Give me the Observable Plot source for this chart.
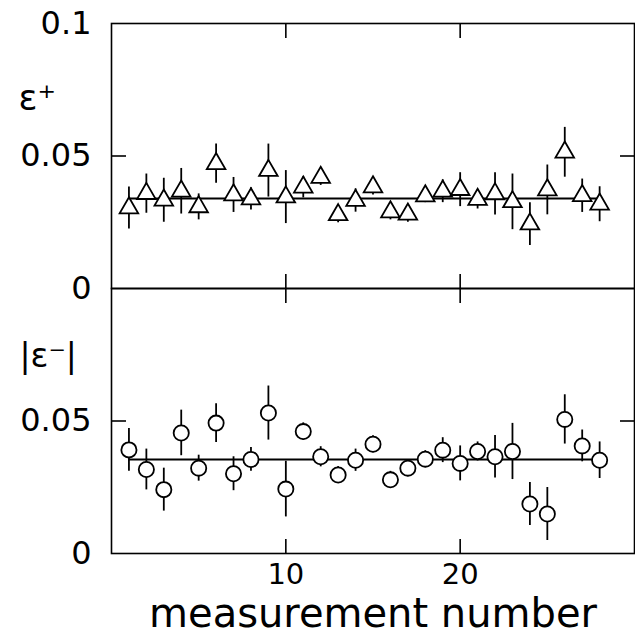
<!DOCTYPE html>
<html>
<head>
<meta charset="utf-8">
<script src="https://cdn.jsdelivr.net/npm/d3@7"></script>
<script src="https://cdn.jsdelivr.net/npm/@observablehq/plot@0.6"></script>
<style>
  html, body { margin: 0; padding: 0; background: #fff; }
</style>
</head>
<body>
<div id="chart"></div>
<script>
// ---- data ----
const panels = ["plus", "minus"];
const panelNames = ["ε⁺", "|ε⁻|"];
const measurement = [1, 2, 3, 4, 5, 6, 7, 8, 9, 10, 11, 12, 13, 14, 15, 16, 17, 18, 19, 20, 21, 22, 23, 24, 25, 26, 27, 28];
const epsPlus = [0.0304, 0.0358, 0.0333, 0.0367, 0.0308, 0.0471, 0.0353, 0.0338, 0.0445, 0.0345,
                 0.0382, 0.0419, 0.0278, 0.0332, 0.0383, 0.0289, 0.0280, 0.0349, 0.0367, 0.0373,
                 0.0336, 0.0357, 0.0327, 0.0243, 0.0372, 0.0514, 0.0350, 0.0318];
const epsPlusErr = [0.0079, 0.0074, 0.0083, 0.0086, 0.0049, 0.0074, 0.0066, 0.0042, 0.0100, 0.0100,
                    0.0040, 0.0030, 0.0030, 0.0044, 0.0030, 0.0030, 0.0030, 0.0025, 0.0043, 0.0064,
                    0.0036, 0.0080, 0.0105, 0.0081, 0.0094, 0.0094, 0.0063, 0.0066];
const epsMinus = [0.0391, 0.0317, 0.0241, 0.0455, 0.0322, 0.0492, 0.0301, 0.0355, 0.0530, 0.0243,
                  0.0460, 0.0365, 0.0296, 0.0352, 0.0412, 0.0278, 0.0322, 0.0356, 0.0390, 0.0340,
                  0.0385, 0.0365, 0.0385, 0.0187, 0.0149, 0.0506, 0.0406, 0.0352];
const epsMinusErr = [0.0081, 0.0077, 0.0081, 0.0086, 0.0049, 0.0073, 0.0064, 0.0045, 0.0102, 0.0105,
                     0.0033, 0.0038, 0.0032, 0.0042, 0.0032, 0.0032, 0.0032, 0.0032, 0.0047, 0.0066,
                     0.0036, 0.0080, 0.0106, 0.0081, 0.0100, 0.0093, 0.0060, 0.0069];
const fitValues = [0.0340, 0.0355];
const yTicksPlus = [0, 0.05, 0.1];
const yTicksMinus = [0, 0.05];
const yTickMarks = [0.05];
const xTicks = [10, 20];
const xLabel = "measurement number";

// ---- tables built from the arrays ----
const rowsPlus = measurement.map((n, i) => ({panel: panels[0], n, v: epsPlus[i], e: epsPlusErr[i]}));
const rowsMinus = measurement.map((n, i) => ({panel: panels[1], n, v: epsMinus[i], e: epsMinusErr[i]}));
const allRows = rowsPlus.concat(rowsMinus);
const fitRows = panels.map((p, i) => ({panel: p, v: fitValues[i], from: d3.min(measurement), to: d3.max(measurement)}));
const yLabelRows = yTicksPlus.map(v => ({panel: panels[0], v, label: String(v)}))
  .concat(yTicksMinus.map(v => ({panel: panels[1], v, label: String(v)})));
const panelLabelTop = [{panel: panels[0], name: panelNames[0]}];
const panelLabelBottom = [{panel: panels[1], name: panelNames[1]}];
const xLabelRows = [{panel: panels[1], text: xLabel}];

const ink = "black";
const chart = Plot.plot({
  width: 635,
  height: 636,
  marginLeft: 111,
  marginRight: 1,
  marginTop: 22,
  marginBottom: 83,
  style: {fontFamily: "'DejaVu Sans', sans-serif", fontSize: "31px", background: "white", color: ink},
  x: {domain: [0, 30]},
  y: {domain: [0, 0.1]},
  fy: {domain: panels, padding: 0, axis: null},
  marks: [
    Plot.frame({stroke: ink, strokeWidth: 1.6}),
    // inward ticks
    Plot.axisY({anchor: "left", ticks: yTickMarks, tickSize: -15, fill: "none", stroke: ink, strokeWidth: 1.6, label: null, facetAnchor: null}),
    Plot.axisY({anchor: "right", ticks: yTickMarks, tickSize: -15, fill: "none", stroke: ink, strokeWidth: 1.6, label: null, facetAnchor: null}),
    Plot.axisX({anchor: "top", ticks: xTicks, tickSize: -14, fill: "none", stroke: ink, strokeWidth: 1.6, label: null, facetAnchor: null}),
    Plot.axisX({anchor: "bottom", ticks: xTicks, tickSize: -14, fill: "none", stroke: ink, strokeWidth: 1.6, label: null, facetAnchor: null}),
    // x tick labels (bottom panel only)
    Plot.axisX({anchor: "bottom", ticks: xTicks, tickSize: 0, tickPadding: 10, label: null, fill: ink, fontSize: 29}),
    // y tick labels
    Plot.text(yLabelRows, {fy: "panel", y: "v", text: "label", frameAnchor: "left", textAnchor: "end", dx: -20, fill: ink, fontSize: 32}),
    // panel labels
    Plot.text(panelLabelTop, {fy: "panel", text: "name", frameAnchor: "top-left", textAnchor: "start", dx: -93, dy: 62, fill: ink, fontSize: 35}),
    Plot.text(panelLabelBottom, {fy: "panel", text: "name", frameAnchor: "top-left", textAnchor: "start", dx: -92, dy: 55, fill: ink, fontSize: 33}),
    // x label
    Plot.text(xLabelRows, {fy: "panel", text: "text", frameAnchor: "bottom", textAnchor: "middle", dy: 73, fill: ink, fontSize: 40}),
    // fit lines
    Plot.ruleY(fitRows, {fy: "panel", y: "v", x1: "from", x2: "to", stroke: ink, strokeWidth: 2}),
    // error bars
    Plot.ruleX(allRows, {fy: "panel", x: "n", y1: d => d.v - d.e, y2: d => d.v + d.e, stroke: ink, strokeWidth: 1.8}),
    // markers
    Plot.dot(rowsPlus, {fy: "panel", x: "n", y: "v", symbol: "triangle", r: 6.9, fill: "white", stroke: ink, strokeWidth: 1.8}),
    Plot.dot(rowsMinus, {fy: "panel", x: "n", y: "v", symbol: "circle", r: 7.6, fill: "white", stroke: ink, strokeWidth: 1.8})
  ]
});
document.getElementById("chart").appendChild(chart);
</script>
</body>
</html>
